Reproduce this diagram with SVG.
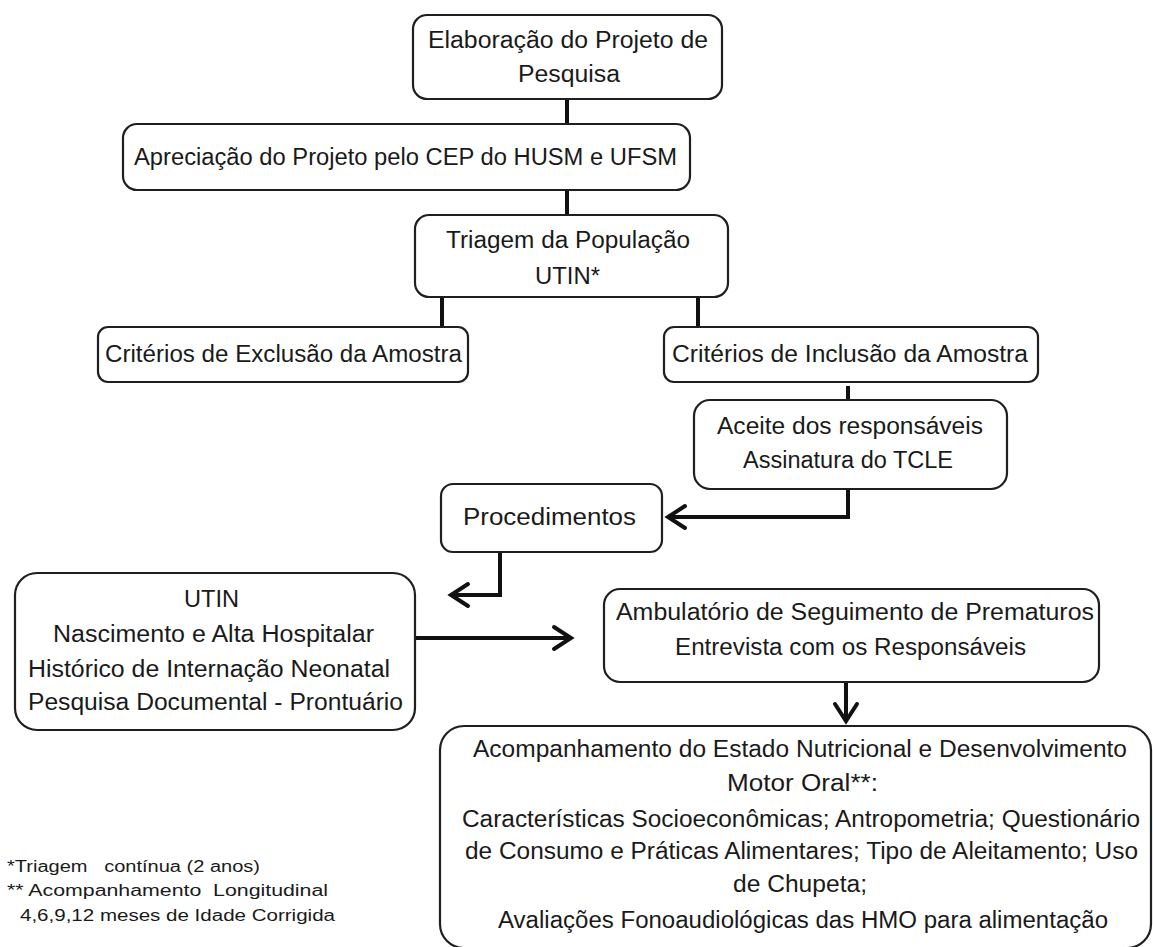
<svg xmlns="http://www.w3.org/2000/svg" width="1153" height="947" viewBox="0 0 1153 947">
<style>
  .box { fill: #ffffff; stroke: #1f1f1f; stroke-width: 2.2; }
  .t { font-family: "Liberation Sans", Arial, sans-serif; font-size: 23px; fill: #1a1a1a; }
  .fn { font-family: "Liberation Sans", Arial, sans-serif; font-size: 16px; fill: #1a1a1a; }
  .ln { fill: none; stroke: #111111; stroke-width: 4; }
  .ah { fill: none; stroke: #111111; stroke-width: 4; stroke-linecap: round; stroke-linejoin: miter; }
</style>
<rect width="1153" height="947" fill="#ffffff"/>

<g id="connectors">
  <line class="ln" x1="567" y1="99" x2="567" y2="124"/>
  <line class="ln" x1="567" y1="190" x2="567" y2="215"/>
  <line class="ln" x1="442" y1="297" x2="442" y2="327"/>
  <line class="ln" x1="698" y1="297" x2="698" y2="327"/>
  <line class="ln" x1="848" y1="386" x2="848" y2="400"/>
  <polyline class="ln" points="848,489 848,517 668,517"/>
  <polyline class="ah" points="685,506 668,517 685,528"/>
  <polyline class="ln" points="500,552 500,595 451,595"/>
  <polyline class="ah" points="468,584 451,595 468,606"/>
  <line class="ln" x1="415" y1="638" x2="571" y2="638"/>
  <polyline class="ah" points="554,627 571,638 554,649"/>
  <line class="ln" x1="846" y1="682" x2="846" y2="721"/>
  <polyline class="ah" points="835,704 846,721 857,704"/>
</g>

<g id="n1">
  <rect class="box" x="413" y="15" width="309" height="84" rx="14"/>
  <text class="t" x="428" y="48" textLength="280" lengthAdjust="spacingAndGlyphs">Elaboração do Projeto de</text>
  <text class="t" x="518" y="82" textLength="102" lengthAdjust="spacingAndGlyphs">Pesquisa</text>
</g>

<g id="n2">
  <rect class="box" x="123" y="124" width="567" height="66" rx="14"/>
  <text class="t" x="134" y="165" textLength="543" lengthAdjust="spacingAndGlyphs">Apreciação do Projeto pelo CEP do HUSM e UFSM</text>
</g>

<g id="n3">
  <rect class="box" x="415" y="215" width="313" height="82" rx="14"/>
  <text class="t" x="446" y="248" textLength="244" lengthAdjust="spacingAndGlyphs">Triagem da População</text>
  <text class="t" x="535" y="284" textLength="65" lengthAdjust="spacingAndGlyphs">UTIN*</text>
</g>

<g id="n4">
  <rect class="box" x="98" y="327" width="370" height="55" rx="10"/>
  <text class="t" x="105" y="362" textLength="357" lengthAdjust="spacingAndGlyphs">Critérios de Exclusão da Amostra</text>
</g>

<g id="n5">
  <rect class="box" x="664" y="327" width="374" height="55" rx="10"/>
  <text class="t" x="672" y="362" textLength="356" lengthAdjust="spacingAndGlyphs">Critérios de Inclusão da Amostra</text>
</g>

<g id="n6">
  <rect class="box" x="694" y="400" width="313" height="89" rx="16"/>
  <text class="t" x="717" y="434" textLength="266" lengthAdjust="spacingAndGlyphs">Aceite dos responsáveis</text>
  <text class="t" x="743" y="468" textLength="210" lengthAdjust="spacingAndGlyphs">Assinatura do TCLE</text>
</g>

<g id="n7">
  <rect class="box" x="441" y="484" width="221" height="68" rx="12"/>
  <text class="t" x="463" y="525" textLength="173" lengthAdjust="spacingAndGlyphs">Procedimentos</text>
</g>

<g id="n8">
  <rect class="box" x="15" y="573" width="400" height="157" rx="22"/>
  <text class="t" x="184" y="607" textLength="55" lengthAdjust="spacingAndGlyphs">UTIN</text>
  <text class="t" x="53" y="642" textLength="321" lengthAdjust="spacingAndGlyphs">Nascimento e Alta Hospitalar</text>
  <text class="t" x="28" y="677" textLength="362" lengthAdjust="spacingAndGlyphs">Histórico de Internação Neonatal</text>
  <text class="t" x="28" y="710" textLength="375" lengthAdjust="spacingAndGlyphs">Pesquisa Documental - Prontuário</text>
</g>

<g id="n9">
  <rect class="box" x="604" y="589" width="495" height="93" rx="16"/>
  <text class="t" x="616" y="620" textLength="478" lengthAdjust="spacingAndGlyphs">Ambulatório de Seguimento de Prematuros</text>
  <text class="t" x="675" y="655" textLength="351" lengthAdjust="spacingAndGlyphs">Entrevista com os Responsáveis</text>
</g>

<g id="n10">
  <rect class="box" x="440" y="726" width="711" height="222" rx="24"/>
  <text class="t" x="473" y="757" textLength="654" lengthAdjust="spacingAndGlyphs">Acompanhamento do Estado Nutricional e Desenvolvimento</text>
  <text class="t" x="727" y="791" textLength="151" lengthAdjust="spacingAndGlyphs">Motor Oral**:</text>
  <text class="t" x="462" y="827" textLength="678" lengthAdjust="spacingAndGlyphs">Características Socioeconômicas; Antropometria; Questionário</text>
  <text class="t" x="465" y="859" textLength="673" lengthAdjust="spacingAndGlyphs">de Consumo e Práticas Alimentares; Tipo de Aleitamento; Uso</text>
  <text class="t" x="733" y="892" textLength="134" lengthAdjust="spacingAndGlyphs">de Chupeta;</text>
  <text class="t" x="498" y="928" textLength="610" lengthAdjust="spacingAndGlyphs">Avaliações Fonoaudiológicas das HMO para alimentação</text>
</g>

<g id="footnotes">
  <text class="fn" x="7" y="872" textLength="253" lengthAdjust="spacingAndGlyphs" xml:space="preserve">*Triagem   contínua (2 anos)</text>
  <text class="fn" x="7" y="896" textLength="321" lengthAdjust="spacingAndGlyphs" xml:space="preserve">** Acompanhamento  Longitudinal</text>
  <text class="fn" x="20" y="921" textLength="315" lengthAdjust="spacingAndGlyphs">4,6,9,12 meses de Idade Corrigida</text>
</g>
</svg>
